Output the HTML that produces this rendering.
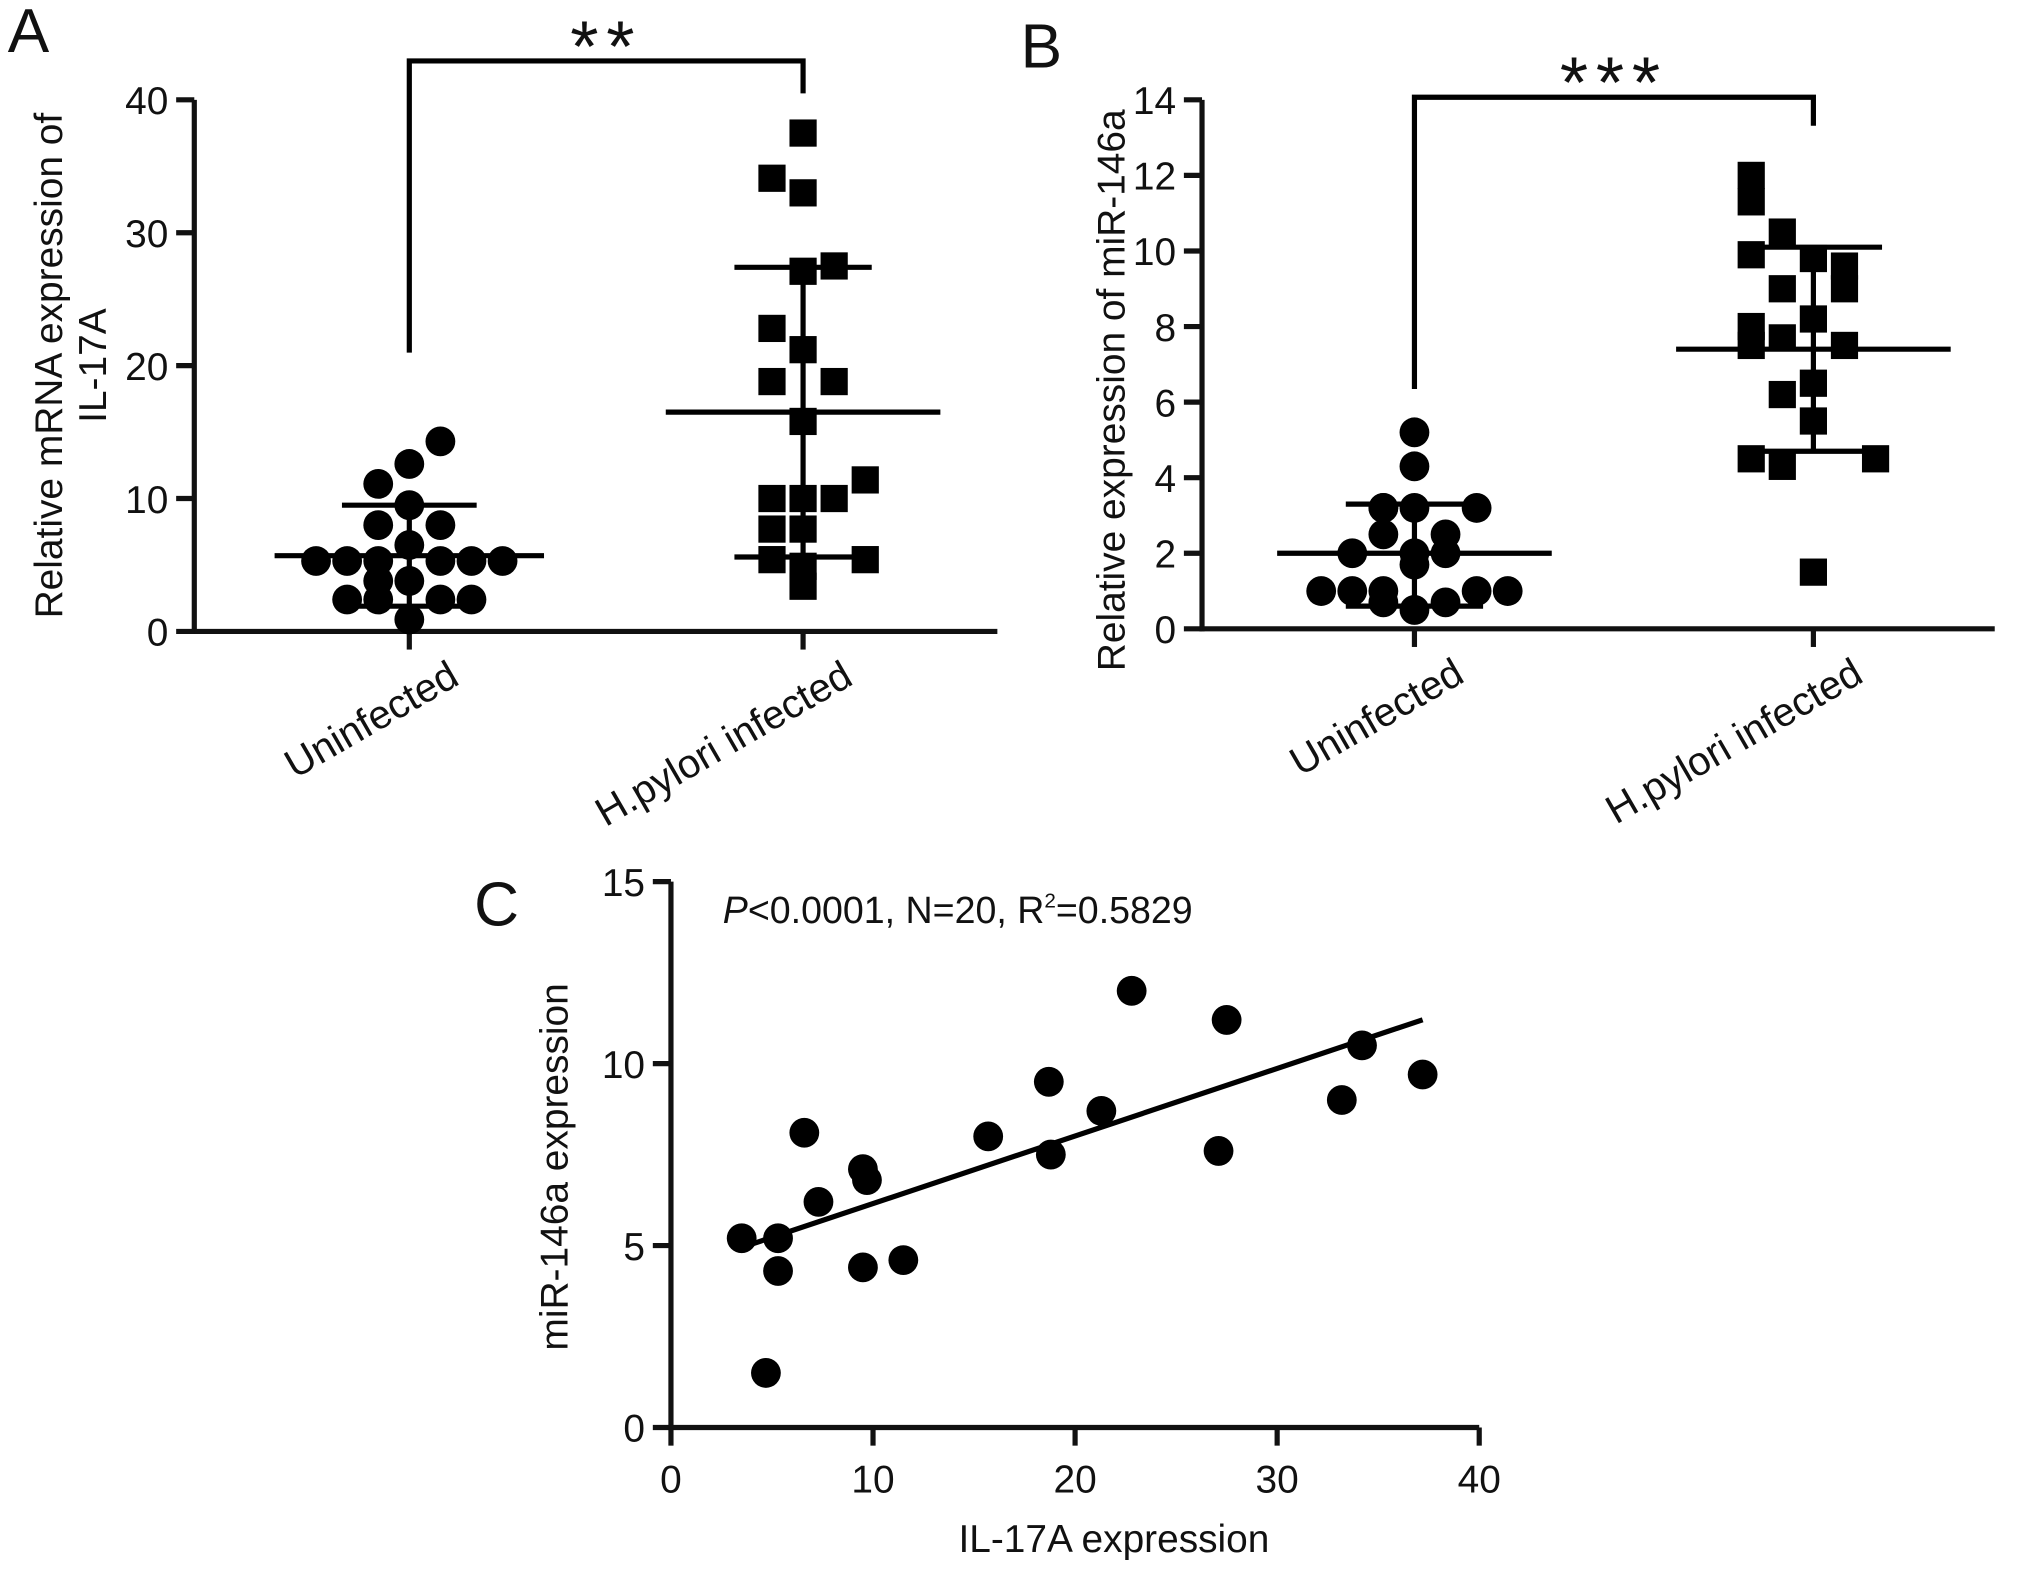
<!DOCTYPE html>
<html><head><meta charset="utf-8"><style>
html,body{margin:0;padding:0;background:#fff}
svg{display:block}
text{font-family:"Liberation Sans",Arial,sans-serif;fill:#111}
</style></head><body>
<svg id="fig" width="2031" height="1574" viewBox="0 0 1568 1214" preserveAspectRatio="none" xmlns="http://www.w3.org/2000/svg">
<g id="A"></g>
<g id="B"></g>
<g id="C"></g>
</svg>
<script>
// ---- Panel A data ----
const aCategories = ["Uninfected", "H.pylori infected"];
const aUninfected = [14.3,12.6,11.1,9.5,8.0,8.0,6.5,5.3,5.3,5.3,5.3,5.3,5.3,3.8,3.8,2.4,2.4,2.4,2.4,0.9];
const aUninfJitter = [1,0,-1,0,-1,1,0,-3,-2,-1,1,2,3,-1,0,-2,-1,1,2,0];
const aInfected = [37.5,34.1,33.0,27.5,27.1,22.8,21.2,18.8,18.8,15.8,11.4,10.0,10.0,10.0,7.7,7.7,5.4,4.9,5.4,3.4];
const aInfJitter = [0,-1,0,1,0,-1,0,-1,1,0,2,-1,0,1,-1,0,-1,0,2,0];
const aStats = {mean:[5.7,16.5], lo:[1.9,5.6], hi:[9.5,27.4]};
const aTicks = [0,10,20,30,40];
// ---- Panel B data ----
const bCategories = ["Uninfected", "H.pylori infected"];
const bUninfected = [5.2,4.3,3.2,3.2,3.2,3.2,2.5,2.5,2.0,2.0,2.0,1.7,1.0,1.0,1.0,1.0,1.0,0.7,0.7,0.5];
const bUninfJitter = [0,0,-1,0,2,-1,-1,1,-2,0,1,0,-3,-2,2,3,-1,-1,1,0];
const bInfected = [12.0,11.3,10.5,9.9,9.8,9.6,9.0,9.0,8.2,8.0,7.7,7.5,7.5,6.5,6.2,5.5,4.5,4.5,4.3,1.5];
const bInfJitter = [-2,-2,-1,-2,0,1,-1,1,0,-2,-1,-2,1,0,-1,0,-2,2,-1,0];
const bStats = {mean:[2.0,7.4], lo:[0.6,4.7], hi:[3.3,10.1]};
const bTicks = [0,2,4,6,8,10,12,14];
// ---- Panel C data ----
const cIL17A = [3.5,5.3,5.3,4.7,6.6,7.3,9.5,9.7,9.5,11.5,15.7,18.7,18.8,21.3,22.8,27.1,27.5,33.2,34.2,37.2];
const cMiR = [5.2,5.2,4.3,1.5,8.1,6.2,7.1,6.8,4.4,4.6,8.0,9.5,7.5,8.7,12.0,7.6,11.2,9.0,10.5,9.7];
const cXTicks = [0,10,20,30,40];
const cYTicks = [0,5,10,15];

const NS="http://www.w3.org/2000/svg";
function mk(parent,tag,attrs,text){const e=document.createElementNS(NS,tag);for(const k in attrs)e.setAttribute(k,attrs[k]);if(text!==undefined)e.textContent=text;parent.appendChild(e);return e;}

function dotPanel(g,o){
  const y=v=>o.y0-(v-o.ticks[0])/(o.ticks[o.ticks.length-1]-o.ticks[0])*(o.y0-o.yTop);
  let ax=mk(g,'line',{x1:o.x0,y1:o.yTop,x2:o.x0,y2:o.y0+2,stroke:'#111','stroke-width':4});
  
  ax=mk(g,'line',{x1:o.x0-2,y1:o.y0,x2:o.x1,y2:o.y0,stroke:'#111','stroke-width':4});
  
  o.ticks.forEach(t=>{
    const l=mk(g,'line',{x1:o.x0-14,y1:y(t),x2:o.x0,y2:y(t),stroke:'#111','stroke-width':4});
    
    const tx=mk(g,'text',{x:o.x0-20,y:y(t)+11,'text-anchor':'end','font-size':30},String(t));
    
  });
  o.cats.forEach((c,i)=>{
    const cx=o.cx[i];
    const l=mk(g,'line',{x1:cx,y1:o.y0,x2:cx,y2:o.y0+14,stroke:'#111','stroke-width':4});
    
    const t=mk(g,'text',{x:cx+40,y:o.y0+40,'text-anchor':'end','font-size':31,transform:`rotate(-30 ${cx+40} ${o.y0+40})`},c);
    
  });
  const sets=[[o.u,o.uj,'circle'],[o.inf,o.ij,'square']];
  sets.forEach((s,i)=>{
    s[0].forEach((v,k)=>{
      const px=o.cx[i]+s[1][k]*24, py=y(v);
      let m;
      if(s[2]==='circle'){m=mk(g,'circle',{cx:px,cy:py,r:11.5,fill:'#000'});}
      else{m=mk(g,'rect',{x:px-10.5,y:py-10.5,width:21,height:21,fill:'#000'});}
      
    });
    const cx=o.cx[i], w=o.meanW[i];
    let l=mk(g,'line',{x1:cx-w,y1:y(o.st.mean[i]),x2:cx+w,y2:y(o.st.mean[i]),stroke:'#000','stroke-width':4});
    
    l=mk(g,'line',{x1:cx,y1:y(o.st.lo[i]),x2:cx,y2:y(o.st.hi[i]),stroke:'#000','stroke-width':4});
    
    [o.st.lo[i],o.st.hi[i]].forEach(v=>{
      const c=mk(g,'line',{x1:cx-w*0.5,y1:y(v),x2:cx+w*0.5,y2:y(v),stroke:'#000','stroke-width':4});
      
    });
  });
  const b=mk(g,'polyline',{points:`${o.cx[0]},${o.br[0]} ${o.cx[0]},${o.br[2]} ${o.cx[1]},${o.br[2]} ${o.cx[1]},${o.br[1]}`,fill:'none',stroke:'#000','stroke-width':4});
  
  const st=mk(g,'text',{x:(o.cx[0]+o.cx[1])/2,y:o.br[2]+8,'text-anchor':'middle','font-size':56,'letter-spacing':6},o.stars);
  
  const pl=mk(g,'text',{x:o.letter[0],y:o.letter[1],'font-size':48},o.letterT);
  
  o.ylab.forEach((s,i)=>{
    const xx=o.ylabX+i*34, yy=(o.yTop+o.y0)/2+o.ylabDy;
    const t=mk(g,'text',{x:xx,y:yy,'text-anchor':'middle','font-size':30,transform:`rotate(-90 ${xx} ${yy})`},s);
    
  });
}
dotPanel(document.getElementById('A'),{x0:150,x1:770,y0:487,yTop:77,ticks:aTicks,cats:aCategories,cx:[316,620],
  u:aUninfected,uj:aUninfJitter,inf:aInfected,ij:aInfJitter,st:aStats,meanW:[104,106],br:[272,72,47],stars:'**',
  letter:[6,40],letterT:'A',ylab:['Relative mRNA expression of','IL-17A'],ylabX:48,ylabDy:0});
dotPanel(document.getElementById('B'),{x0:928,x1:1540,y0:485,yTop:77,ticks:bTicks,cats:bCategories,cx:[1092,1400],
  u:bUninfected,uj:bUninfJitter,inf:bInfected,ij:bInfJitter,st:bStats,meanW:[106,106],br:[300,97,75],stars:'***',
  letter:[788,52],letterT:'B',ylab:['Relative expression of miR-146a'],ylabX:868,ylabDy:20});

(function(){
  const g=document.getElementById('C');
  const X0=518,X1=1142,Y0=1101,Y1=680;
  const x=v=>X0+(v-cXTicks[0])/(cXTicks[cXTicks.length-1]-cXTicks[0])*(X1-X0);
  const y=v=>Y0-(v-cYTicks[0])/(cYTicks[cYTicks.length-1]-cYTicks[0])*(Y0-Y1);
  let a=mk(g,'line',{x1:X0,y1:Y1,x2:X0,y2:Y0+2,stroke:'#111','stroke-width':4});
  
  a=mk(g,'line',{x1:X0-2,y1:Y0,x2:X1,y2:Y0,stroke:'#111','stroke-width':4});
  
  cYTicks.forEach(t=>{
    const l=mk(g,'line',{x1:X0-14,y1:y(t),x2:X0,y2:y(t),stroke:'#111','stroke-width':4});
    
    const tx=mk(g,'text',{x:X0-20,y:y(t)+11,'text-anchor':'end','font-size':30},String(t));
    
  });
  cXTicks.forEach(t=>{
    const l=mk(g,'line',{x1:x(t),y1:Y0,x2:x(t),y2:Y0+14,stroke:'#111','stroke-width':4});
    
    const tx=mk(g,'text',{x:x(t),y:Y0+50,'text-anchor':'middle','font-size':30},String(t));
    
  });
  cIL17A.forEach((v,i)=>{
    const c=mk(g,'circle',{cx:x(v),cy:y(cMiR[i]),r:11.5,fill:'#000'});
    
  });
  const n=cIL17A.length, mx=cIL17A.reduce((s,v)=>s+v,0)/n, my=cMiR.reduce((s,v)=>s+v,0)/n;
  let sxy=0,sxx=0;cIL17A.forEach((v,i)=>{sxy+=(v-mx)*(cMiR[i]-my);sxx+=(v-mx)*(v-mx);});
  const sl=sxy/sxx, ic=my-sl*mx, xa=Math.min(...cIL17A), xb=Math.max(...cIL17A);
  const r=mk(g,'line',{x1:x(xa),y1:y(ic+sl*xa),x2:x(xb),y2:y(ic+sl*xb),stroke:'#000','stroke-width':4});
  
  const st=mk(g,'text',{x:558,y:712,'font-size':29});
  
  st.innerHTML='<tspan font-style="italic">P</tspan>&lt;0.0001, N=20, R<tspan font-size="16" dy="-12">2</tspan><tspan dy="12">=0.5829</tspan>';
  const xl=mk(g,'text',{x:(X0+X1)/2+30,y:1197,'text-anchor':'middle','font-size':30},'IL-17A expression');
  
  const yl=mk(g,'text',{x:438,y:900,'text-anchor':'middle','font-size':30,transform:'rotate(-90 438 900)'},'miR-146a expression');
  
  const pl=mk(g,'text',{x:366,y:714,'font-size':48},'C');
  
})();
</script>
</body></html>
